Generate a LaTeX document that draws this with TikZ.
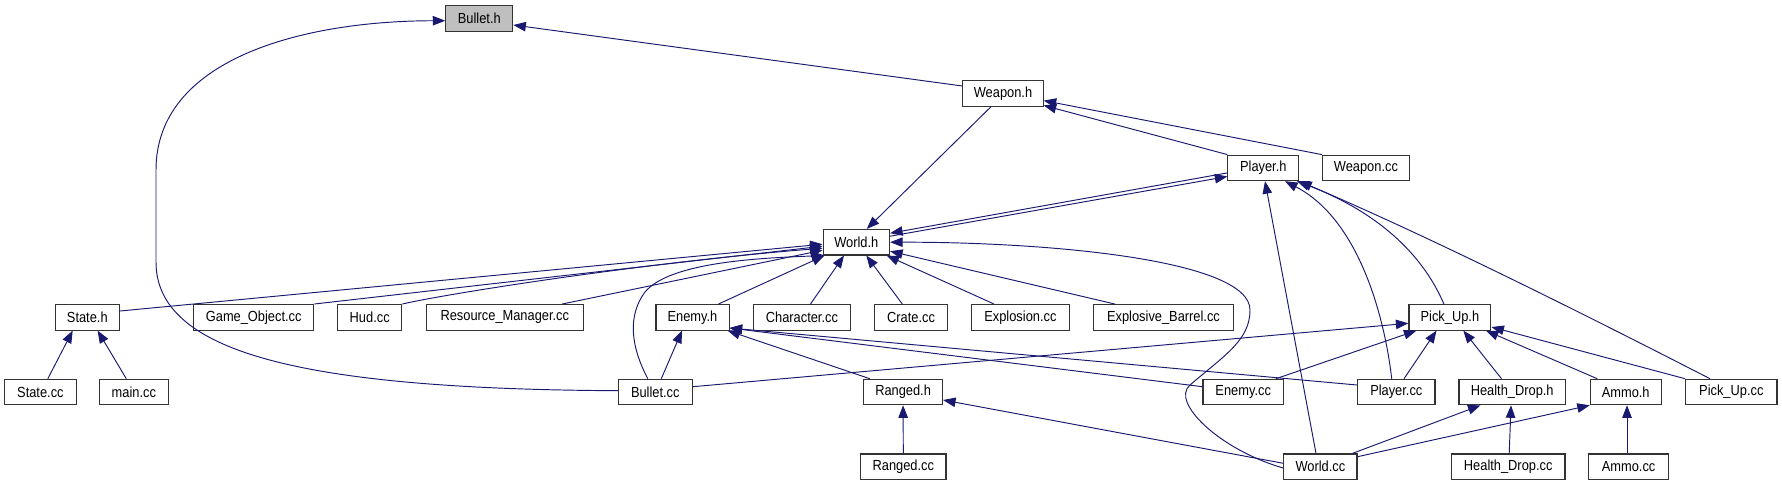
\documentclass[tikz,border=0pt]{standalone}
\usepackage{fontspec}
\setmainfont{Liberation Sans}[FakeStretch=0.88]
\usetikzlibrary{arrows.meta}
\definecolor{edgeblue}{RGB}{25,25,112}
\definecolor{rootgray}{RGB}{191,191,191}
\begin{document}
\begin{tikzpicture}[x=1pt,y=-1pt,
  box/.style={draw=black!80, line width=1.1pt, fill=white, minimum height=25.5pt, inner sep=0pt,
    font=\fontsize{14.6}{17}\selectfont, text=black},
  dep/.style={draw=edgeblue, line width=0.95pt, -{Triangle[length=12.5pt,width=9.5pt]}},
]
\useasboundingbox (0,0) rectangle (1782,485);
% nodes
\node[box, fill=rootgray, minimum width=67pt] (bulleth) at (479.3,18.5) {Bullet.h};
\node[box, minimum width=80.3pt] (weaponh) at (1003,93.4) {Weapon.h};
\node[box, minimum width=70.8pt] (playerh) at (1263.3,167.9) {Player.h};
\node[box, minimum width=86.9pt] (weaponcc) at (1365.9,167.9) {Weapon.cc};
\node[box, minimum width=66.5pt] (worldh) at (856.3,242.2) {World.h};
\node[box, minimum width=64.3pt] (stateh) at (87.3,317.3) {State.h};
\node[box, minimum width=120.2pt] (gameobj) at (253.7,317.3) {Game\_Object.cc};
\node[box, minimum width=64.3pt] (hudcc) at (369.7,317.3) {Hud.cc};
\node[box, minimum width=157pt] (resmgr) at (504.8,317.3) {Resource\_Manager.cc};
\node[box, minimum width=73.1pt] (enemyh) at (692.5,317.3) {Enemy.h};
\node[box, minimum width=97.5pt] (charcc) at (801.9,317.3) {Character.cc};
\node[box, minimum width=72.3pt] (cratecc) at (911,317.3) {Crate.cc};
\node[box, minimum width=97.6pt] (explcc) at (1020.4,317.3) {Explosion.cc};
\node[box, minimum width=139.7pt] (explbarrel) at (1163.5,317.3) {Explosive\_Barrel.cc};
\node[box, minimum width=81.9pt] (pickuph) at (1449.9,317.3) {Pick\_Up.h};
\node[box, minimum width=71.6pt] (statecc) at (40.4,392) {State.cc};
\node[box, minimum width=68.5pt] (maincc) at (133.8,392) {main.cc};
\node[box, minimum width=73.8pt] (bulletcc) at (655.3,392) {Bullet.cc};
\node[box, minimum width=78.8pt] (rangedh) at (903.1,392) {Ranged.h};
\node[box, minimum width=80.4pt] (enemycc) at (1243.2,392) {Enemy.cc};
\node[box, minimum width=77.4pt] (playercc) at (1396.3,392) {Player.cc};
\node[box, minimum width=106.4pt] (healthh) at (1512.2,392) {Health\_Drop.h};
\node[box, minimum width=70.8pt] (ammoh) at (1625.7,392) {Ammo.h};
\node[box, minimum width=91.4pt] (pickupcc) at (1731.3,392) {Pick\_Up.cc};
\node[box, minimum width=85.3pt] (rangedcc) at (903.3,466.7) {Ranged.cc};
\node[box, minimum width=73.1pt] (worldcc) at (1320.4,466.7) {World.cc};
\node[box, minimum width=113.6pt] (healthcc) at (1508.2,466.7) {Health\_Drop.cc};
\node[box, minimum width=79.6pt] (ammocc) at (1628.6,466.7) {Ammo.cc};
% edges
\draw[dep] ([yshift=7.4pt]weaponh.west) -- ([yshift=-6.5pt]bulleth.east);
\draw[dep] ([yshift=1.3pt]bulletcc.west) .. controls (300,389) and (156,352) .. (156,262) -- (156,170) .. controls (156,60) and (300,21) .. ([yshift=-2.2pt]bulleth.west);
\draw[dep] (weaponcc.north west) -- ([yshift=-7.2pt]weaponh.east);
\draw[dep] (playerh.north west) -- ([yshift=-12pt]weaponh.east);
\draw[dep] ([xshift=-12pt]weaponh.south) -- ([xshift=10.5pt]worldh.north);
\draw[dep] ([yshift=-5pt]playerh.west) -- ([yshift=9pt]worldh.east);
\draw[dep] ([yshift=6pt]worldh.east) -- ([yshift=-8.6pt]playerh.west);
\draw[dep] ([yshift=6.3pt]stateh.east) -- ([yshift=-2pt]worldh.west);
\draw[dep] (gameobj.north east) -- ([yshift=-4pt]worldh.west);
\draw[dep] (hudcc.north east) .. controls (450,293) and (650,262) .. ([yshift=-6pt]worldh.west);
\draw[dep] ([xshift=57.4pt]resmgr.north) -- ([yshift=-8pt]worldh.west);
\draw[dep] ([xshift=-7.5pt]bulletcc.north) .. controls (630,345) and (628,315) .. (645,292) .. controls (670,262) and (760,258) .. ([xshift=2pt]worldh.south west);
\draw[dep] ([xshift=26pt]enemyh.north) -- ([xshift=2pt]worldh.south west);
\draw[dep] ([xshift=8.6pt]charcc.north) -- ([xshift=-12.3pt]worldh.south);
\draw[dep] ([xshift=-8.7pt]cratecc.north) -- ([xshift=10pt]worldh.south);
\draw[dep] ([xshift=-26.4pt]explcc.north) -- ([xshift=-3.5pt]worldh.south east);
\draw[dep] ([xshift=-48.8pt]explbarrel.north) -- ([yshift=-9pt]worldh.east);
\draw[dep] ([yshift=-1.3pt]worldcc.west) .. controls (1220,450) and (1170,402) .. (1190,385) .. controls (1225,355) and (1250,340) .. (1250,310) .. controls (1250,260) and (1050,242) .. (worldh.east);
\draw[dep] ([xshift=-4.4pt]worldcc.north) -- ([xshift=1.7pt]playerh.south);
\draw[dep] ([xshift=-4.6pt]playercc.north) .. controls (1385,320) and (1360,220) .. ([xshift=21.7pt]playerh.south);
\draw[dep] ([xshift=-6pt]pickuph.north) .. controls (1425,260) and (1385,215) .. ([xshift=33.7pt]playerh.south);
\draw[dep] ([xshift=-21.3pt]pickupcc.north) .. controls (1580,312) and (1430,237) .. (playerh.south east);
\draw[dep] ([xshift=6pt]bulletcc.north) -- ([xshift=-10.5pt]enemyh.south);
\draw[dep] ([xshift=-33.3pt]rangedh.north) -- ([xshift=-2pt]enemyh.south east);
\draw[dep] ([yshift=5.3pt]enemycc.west) -- ([yshift=-10.7pt]enemyh.east);
\draw[dep] ([yshift=7pt]playercc.west) -- ([yshift=-10.7pt]enemyh.east);
\draw[dep] ([yshift=5.3pt]bulletcc.east) -- ([yshift=-6pt]pickuph.west);
\draw[dep] ([xshift=-8pt]enemycc.north east) -- ([xshift=8pt]pickuph.south west);
\draw[dep] ([xshift=7.7pt]playercc.north) -- ([xshift=-13.4pt]pickuph.south);
\draw[dep] ([xshift=-10.7pt]healthh.north) -- ([xshift=13.4pt]pickuph.south);
\draw[dep] ([xshift=-28.5pt]ammoh.north) -- ([xshift=36pt]pickuph.south);
\draw[dep] (pickupcc.north west) -- ([yshift=-9.7pt]pickuph.east);
\draw[dep] ([xshift=32pt]worldcc.north) -- ([xshift=-31.7pt]healthh.south);
\draw[dep] ([xshift=1pt]healthcc.north) -- ([xshift=-1.2pt]healthh.south);
\draw[dep] ([yshift=10pt]worldcc.east) -- (ammoh.south west);
\draw[dep] ([xshift=-1.6pt]ammocc.north) -- ([xshift=1.3pt]ammoh.south);
\draw[dep] (rangedcc.north) -- (rangedh.south);
\draw[dep] ([yshift=3.4pt]worldcc.west) -- ([yshift=-8pt]rangedh.east);
\draw[dep] ([xshift=7.4pt]statecc.north) -- ([xshift=-14.6pt]stateh.south);
\draw[dep] ([xshift=-7.5pt]maincc.north) -- ([xshift=10.3pt]stateh.south);
\end{tikzpicture}
\end{document}
